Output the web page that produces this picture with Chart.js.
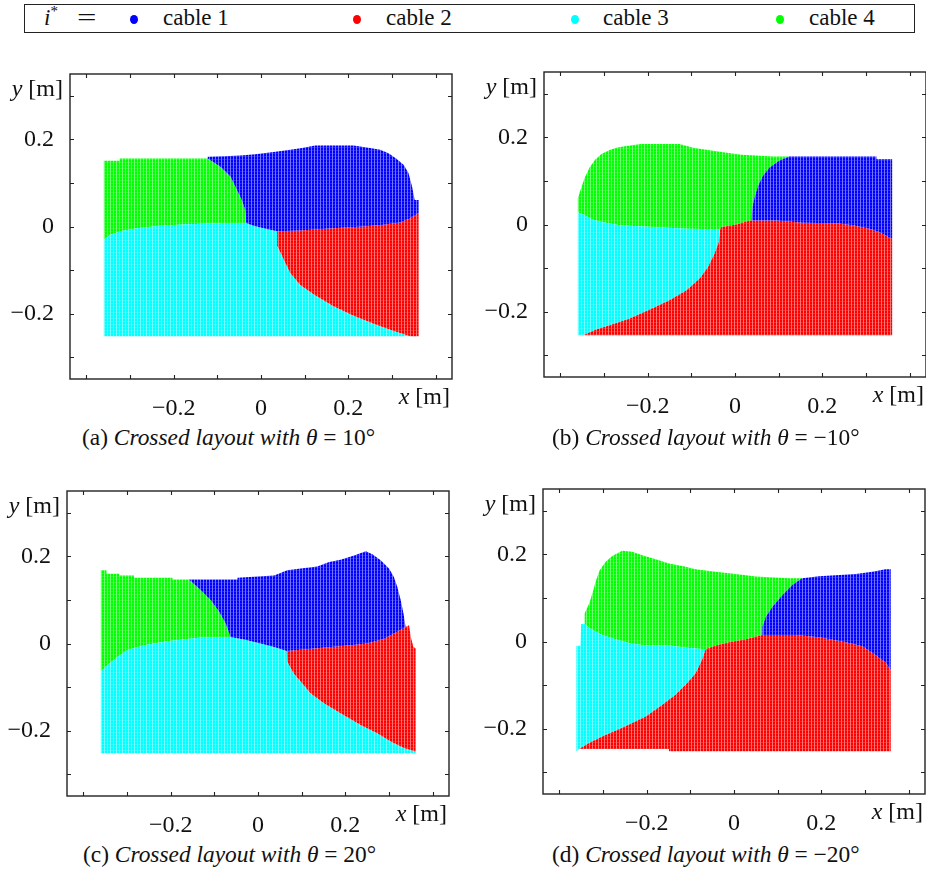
<!DOCTYPE html>
<html>
<head>
<meta charset="utf-8">
<script src="https://cdn.jsdelivr.net/npm/chart.js@4.4.0/dist/chart.umd.min.js"></script>
<style>
  html, body { margin: 0; padding: 0; background: #fff; }
  #page { position: relative; width: 926px; height: 872px; overflow: hidden; font-family: "Liberation Serif", serif; color: #111; }
  canvas { position: absolute; }
  .legend { position: absolute; left: 24px; top: 4px; width: 891px; height: 29px; box-sizing: border-box; border: 1.3px solid #222; }
  .legend span { position: absolute; top: 1px; font-size: 23px; line-height: 24px; white-space: nowrap; }
  .legend .dot { width: 8px; height: 9px; border-radius: 50%; top: 10px; }
  .legend .eq { transform: scaleX(1.5); transform-origin: left center; }
  .caption { position: absolute; font-size: 23.4px; line-height: 26px; white-space: nowrap; }
</style>
</head>
<body>
<div id="page">
  <div class="legend" id="legend"></div>
  <canvas id="pa" width="466" height="390" style="left:0px;top:34px"></canvas>
  <canvas id="pb" width="466" height="390" style="left:474px;top:32px"></canvas>
  <canvas id="pc" width="466" height="390" style="left:-3px;top:451px"></canvas>
  <canvas id="pd" width="466" height="390" style="left:473px;top:449px"></canvas>
</div>
<script>
/**
 * Cable index regions, four crossed layouts.
 * Each region is a polygon [x, y] in metres.
 */

const cables = ['cable 1', 'cable 2', 'cable 3', 'cable 4'];
const cableColors = ['#0000ff', '#ff0000', '#00ffff', '#00ff00'];
const thetas = [10, -10, 20, -20];
const panelTags = ['(a)', '(b)', '(c)', '(d)'];

const xTickValues = [-0.4, -0.3, -0.2, -0.1, 0, 0.1, 0.2, 0.3, 0.4];
const yTickValues = [-0.3, -0.2, -0.1, 0, 0.1, 0.2, 0.3];
const labelValues = [-0.2, 0, 0.2];
const labelTexts = ['\u22120.2', '0', '0.2'];

// (a) theta = 10
const aTopGreen = [[-0.360, 0.151], [-0.324, 0.151], [-0.324, 0.156], [-0.122, 0.156]];
const aGreenBlue = [[-0.122, 0.156], [-0.093, 0.137], [-0.070, 0.115], [-0.055, 0.084], [-0.044, 0.061], [-0.036, 0.038], [-0.034, 0.008]];
const aGreenCyan = [[-0.360, -0.031], [-0.345, -0.019], [-0.322, -0.011], [-0.284, -0.004], [-0.231, 0.002], [-0.169, 0.005], [-0.085, 0.008], [-0.034, 0.008]];
const aTopBlue = [[-0.122, 0.156], [-0.122, 0.160], [-0.084, 0.161], [-0.047, 0.163], [-0.013, 0.166], [0.029, 0.171], [0.067, 0.176], [0.094, 0.180], [0.124, 0.186], [0.212, 0.186], [0.250, 0.180], [0.273, 0.176], [0.292, 0.168], [0.311, 0.155], [0.327, 0.141], [0.338, 0.122], [0.346, 0.092], [0.352, 0.061], [0.361, 0.061]];
const aBlueCyan = [[-0.034, 0.008], [-0.017, 0.002], [0.006, -0.004], [0.037, -0.011]];
const aBlueRed = [[0.037, -0.011], [0.090, -0.009], [0.166, -0.004], [0.235, 0.000], [0.281, 0.004], [0.319, 0.009], [0.342, 0.019], [0.361, 0.031]];
const aCyanRed = [[0.037, -0.011], [0.038, -0.046], [0.052, -0.076], [0.067, -0.107], [0.090, -0.134], [0.121, -0.156], [0.166, -0.183], [0.212, -0.205], [0.258, -0.223], [0.304, -0.240], [0.342, -0.252]];

// (b) theta = -10
const bTopGreen = [[-0.360, 0.060], [-0.352, 0.085], [-0.344, 0.108], [-0.333, 0.131], [-0.321, 0.148], [-0.306, 0.162], [-0.287, 0.171], [-0.272, 0.176], [-0.249, 0.180], [-0.215, 0.185], [-0.127, 0.185], [-0.096, 0.176], [-0.062, 0.171], [-0.027, 0.166], [0.015, 0.160], [0.087, 0.156], [0.124, 0.156]];
const bGreenBlue = [[0.124, 0.156], [0.102, 0.147], [0.079, 0.131], [0.064, 0.112], [0.053, 0.089], [0.045, 0.063], [0.040, 0.040], [0.038, 0.009]];
const bGreenCyan = [[-0.360, 0.028], [-0.348, 0.023], [-0.325, 0.011], [-0.302, 0.005], [-0.264, -0.002], [-0.188, -0.006], [-0.111, -0.010], [-0.034, -0.011]];
const bGreenRed = [[-0.034, -0.011], [-0.031, -0.006], [0.003, 0.000], [0.030, 0.008], [0.038, 0.009]];
const bTopBlue = [[0.124, 0.156], [0.324, 0.156], [0.324, 0.150], [0.360, 0.150]];
const bBlueRed = [[0.038, 0.009], [0.095, 0.009], [0.156, 0.004], [0.232, 0.003], [0.270, -0.002], [0.308, -0.010], [0.331, -0.018], [0.360, -0.033]];
const bCyanRed = [[-0.034, -0.011], [-0.037, -0.040], [-0.047, -0.067], [-0.062, -0.098], [-0.081, -0.124], [-0.111, -0.151], [-0.150, -0.174], [-0.195, -0.195], [-0.241, -0.216], [-0.287, -0.231], [-0.318, -0.241], [-0.348, -0.254]];

// (c) theta = 20
const cTopGreen = [[-0.360, 0.168], [-0.347, 0.168], [-0.347, 0.160], [-0.318, 0.160], [-0.318, 0.156], [-0.284, 0.156], [-0.284, 0.151], [-0.196, 0.151], [-0.196, 0.147], [-0.158, 0.147]];
const cGreenBlue = [[-0.158, 0.147], [-0.131, 0.122], [-0.108, 0.099], [-0.089, 0.073], [-0.074, 0.046], [-0.063, 0.015]];
const cGreenCyan = [[-0.360, -0.065], [-0.345, -0.050], [-0.322, -0.031], [-0.299, -0.015], [-0.261, -0.004], [-0.208, 0.005], [-0.131, 0.014], [-0.063, 0.015]];
const cTopBlue = [[-0.158, 0.147], [-0.047, 0.147], [-0.047, 0.151], [0.037, 0.156], [0.067, 0.168], [0.098, 0.172], [0.136, 0.177], [0.163, 0.187], [0.189, 0.192], [0.220, 0.202], [0.247, 0.212], [0.262, 0.205], [0.281, 0.191], [0.300, 0.172], [0.311, 0.153], [0.319, 0.130], [0.327, 0.099], [0.334, 0.065], [0.338, 0.038]];
const cBlueCyan = [[-0.063, 0.015], [-0.032, 0.009], [0.006, 0.000], [0.037, -0.008], [0.066, -0.017]];
const cBlueRed = [[0.066, -0.017], [0.136, -0.011], [0.212, -0.004], [0.250, 0.000], [0.289, 0.011], [0.319, 0.027], [0.338, 0.038]];
const cRightRed = [[0.346, 0.042], [0.350, 0.015], [0.356, -0.008], [0.361, -0.011], [0.361, -0.248]];
const cCyanRed = [[0.066, -0.017], [0.067, -0.042], [0.082, -0.069], [0.098, -0.088], [0.121, -0.115], [0.151, -0.137], [0.189, -0.160], [0.235, -0.187], [0.273, -0.206], [0.304, -0.225], [0.334, -0.240], [0.361, -0.248]];

// (d) theta = -20
const dTopCyan = [[-0.361, -0.010], [-0.352, -0.010], [-0.350, 0.040]];
const dTopGreen = [[-0.342, 0.040], [-0.342, 0.065], [-0.331, 0.089], [-0.323, 0.115], [-0.317, 0.137], [-0.308, 0.163], [-0.294, 0.183], [-0.279, 0.196], [-0.256, 0.208], [-0.233, 0.206], [-0.210, 0.198], [-0.179, 0.189], [-0.149, 0.179], [-0.118, 0.173], [-0.088, 0.166], [-0.042, 0.160], [0.004, 0.155], [0.050, 0.149], [0.126, 0.145], [0.156, 0.145]];
const dGreenBlue = [[0.156, 0.145], [0.134, 0.130], [0.111, 0.107], [0.088, 0.080], [0.073, 0.057], [0.065, 0.034], [0.065, 0.015]];
const dGreenCyan = [[-0.342, 0.040], [-0.332, 0.031], [-0.302, 0.015], [-0.271, 0.005], [-0.240, -0.004], [-0.202, -0.009], [-0.149, -0.009], [-0.103, -0.015], [-0.065, -0.018]];
const dGreenRed = [[-0.065, -0.018], [-0.042, -0.009], [-0.011, -0.002], [0.027, 0.005], [0.065, 0.015]];
const dTopBlue = [[0.156, 0.145], [0.195, 0.150], [0.279, 0.155], [0.317, 0.160], [0.347, 0.166], [0.359, 0.166]];
const dBlueRed = [[0.065, 0.015], [0.141, 0.015], [0.195, 0.010], [0.256, -0.002], [0.294, -0.011], [0.324, -0.031], [0.347, -0.048], [0.359, -0.065]];
const dBottomRed = [[-0.361, -0.252], [-0.355, -0.247], [-0.149, -0.247], [-0.149, -0.252], [0.359, -0.252]];
const dCyanRed = [[-0.065, -0.018], [-0.073, -0.042], [-0.088, -0.073], [-0.107, -0.095], [-0.134, -0.122], [-0.164, -0.145], [-0.202, -0.172], [-0.256, -0.198], [-0.302, -0.218], [-0.332, -0.233], [-0.355, -0.247], [-0.361, -0.252]];

const rev = arr => arr.slice().reverse();

// polygons per panel, in cable order 1..4
const panelRegions = [
  [
    [...aTopBlue, ...rev(aBlueRed), ...rev(aBlueCyan), ...rev(aGreenBlue)],
    [...aBlueRed, [0.361, -0.252], ...rev(aCyanRed)],
    [...aGreenCyan, ...aBlueCyan, ...aCyanRed, [-0.360, -0.252]],
    [...aTopGreen, ...aGreenBlue, ...rev(aGreenCyan)]
  ],
  [
    [...bTopBlue, ...rev(bBlueRed), ...rev(bGreenBlue)],
    [...bGreenRed, ...bBlueRed, [0.360, -0.254], ...rev(bCyanRed)],
    [...bGreenCyan, ...bCyanRed, [-0.360, -0.254]],
    [...bTopGreen, ...bGreenBlue, ...rev(bGreenRed), ...rev(bGreenCyan)]
  ],
  [
    [...cTopBlue, ...rev(cBlueRed), ...rev(cBlueCyan), ...rev(cGreenBlue)],
    [...cBlueRed, ...cRightRed, ...rev(cCyanRed)],
    [...cGreenCyan, ...cBlueCyan, ...cCyanRed, [0.361, -0.252], [-0.360, -0.252]],
    [...cTopGreen, ...cGreenBlue, ...rev(cGreenCyan)]
  ],
  [
    [...dTopBlue, ...rev(dBlueRed), ...rev(dGreenBlue)],
    [...dGreenRed, ...dBlueRed, ...rev(dBottomRed), ...rev(dCyanRed)],
    [...dTopCyan, ...dGreenCyan, ...dCyanRed],
    [...dTopGreen, ...dGreenBlue, ...rev(dGreenRed), ...rev(dGreenCyan)]
  ]
];

const FONT = '"Liberation Serif", serif';
const FSIZE = 24;

/**
 * DOT PATTERN - mimics the dense grid of scatter points
 */
function dotPattern(color) {
  const c = document.createElement('canvas');
  c.width = 3;
  c.height = 3;
  const g = c.getContext('2d');
  g.fillStyle = '#fff';
  g.fillRect(0, 0, 3, 3);
  g.fillStyle = color;
  g.fillRect(0, 0, 2, 2);
  g.globalAlpha = 0.85;
  g.fillRect(0, 2, 2, 1);
  g.globalAlpha = 0.55;
  g.fillRect(2, 0, 1, 3);
  return g.createPattern(c, 'repeat');
}

function axisTitle(ctx, letter, unit, right, y, baseline) {
  ctx.textBaseline = baseline;
  ctx.textAlign = 'left';
  ctx.font = `italic ${FSIZE}px ${FONT}`;
  const w1 = ctx.measureText(letter).width;
  ctx.font = `${FSIZE}px ${FONT}`;
  const w2 = ctx.measureText(unit).width;
  const x0 = right - w1 - w2;
  ctx.font = `italic ${FSIZE}px ${FONT}`;
  ctx.fillText(letter, x0, y);
  ctx.font = `${FSIZE}px ${FONT}`;
  ctx.fillText(unit, x0 + w1, y);
}

// frame with inward ticks on all four sides, plus axis titles
const framePlugin = {
  id: 'frame',
  afterDraw(chart) {
    const { ctx, chartArea: a, scales: { x, y } } = chart;
    const tl = 4;
    ctx.save();
    ctx.strokeStyle = '#222';
    ctx.lineWidth = 1.4;
    ctx.strokeRect(a.left, a.top, a.right - a.left, a.bottom - a.top);
    ctx.lineWidth = 1.1;
    ctx.beginPath();
    x.ticks.forEach(t => {
      const px = Math.round(x.getPixelForValue(t.value)) + 0.5;
      ctx.moveTo(px, a.bottom); ctx.lineTo(px, a.bottom - tl);
      ctx.moveTo(px, a.top); ctx.lineTo(px, a.top + tl);
    });
    y.ticks.forEach(t => {
      const py = Math.round(y.getPixelForValue(t.value)) + 0.5;
      ctx.moveTo(a.left, py); ctx.lineTo(a.left + tl, py);
      ctx.moveTo(a.right, py); ctx.lineTo(a.right - tl, py);
    });
    ctx.stroke();
    ctx.fillStyle = '#111';
    axisTitle(ctx, 'y', ' [m]', a.left - 7, a.top + 16, 'middle');
    axisTitle(ctx, 'x', ' [m]', a.right - 2, a.bottom + 7, 'top');
    ctx.restore();
  }
};

function tickText(v) {
  const i = labelValues.findIndex(t => Math.abs(t - v) < 1e-6);
  return i >= 0 ? labelTexts[i] : '';
}

function createPanel(canvasId, regions) {
  const datasets = regions.map((poly, i) => ({
    label: cables[i],
    data: poly.map(([x, y]) => ({ x, y })),
    showLine: true,
    fill: 'shape',
    backgroundColor: dotPattern(cableColors[i]),
    borderWidth: 0,
    pointRadius: 0,
    tension: 0
  }));

  const tickFont = { family: FONT, size: FSIZE };

  return new Chart(document.getElementById(canvasId), {
    type: 'scatter',
    data: { datasets },
    options: {
      responsive: false,
      animation: false,
      layout: { padding: { left: 0, top: 40, right: 14, bottom: 0 } },
      plugins: { legend: { display: false }, tooltip: { enabled: false } },
      scales: {
        x: {
          type: 'linear',
          min: -0.4375,
          max: 0.4375,
          grid: { display: false },
          border: { display: false },
          afterBuildTicks: s => { s.ticks = xTickValues.map(value => ({ value })); },
          afterFit: s => { s.height = 45; },
          ticks: { autoSkip: false, maxRotation: 0, padding: 7, color: '#111', font: tickFont, callback: tickText }
        },
        y: {
          type: 'linear',
          min: -0.35,
          max: 0.35,
          grid: { display: false },
          border: { display: false },
          afterBuildTicks: s => { s.ticks = yTickValues.map(value => ({ value })); },
          afterFit: s => { s.width = 70; },
          ticks: { autoSkip: false, padding: 8, color: '#111', font: tickFont, callback: tickText }
        }
      }
    },
    plugins: [framePlugin]
  });
}

// shared legend
const legendDotX = [129, 352, 570, 775];
const legendTextX = [163, 386, 603, 809];
const legend = document.getElementById('legend');
legend.innerHTML = '<span style="left:19px"><i>i</i><sup style="font-size:15px;line-height:0">*</sup></span>' +
  '<span class="eq" style="left:52px">=</span>' +
  cables.map((c, i) =>
    `<span class="dot" style="left:${legendDotX[i] - 24}px;background:${cableColors[i]}"></span>` +
    `<span style="left:${legendTextX[i] - 25}px">${c}</span>`
  ).join('');

// captions
const captionPos = [[82, 424], [552, 424], [83, 841], [552, 841]];
const page = document.getElementById('page');
thetas.forEach((t, i) => {
  const d = document.createElement('div');
  d.className = 'caption';
  d.style.left = captionPos[i][0] + 'px';
  d.style.top = captionPos[i][1] + 'px';
  const val = t < 0 ? '\u2212' + Math.abs(t) : String(t);
  d.innerHTML = `${panelTags[i]} <i>Crossed layout with \u03b8</i> = ${val}\u00b0`;
  page.appendChild(d);
});

['pa', 'pb', 'pc', 'pd'].forEach((id, i) => createPanel(id, panelRegions[i]));
</script>
</body>
</html>
